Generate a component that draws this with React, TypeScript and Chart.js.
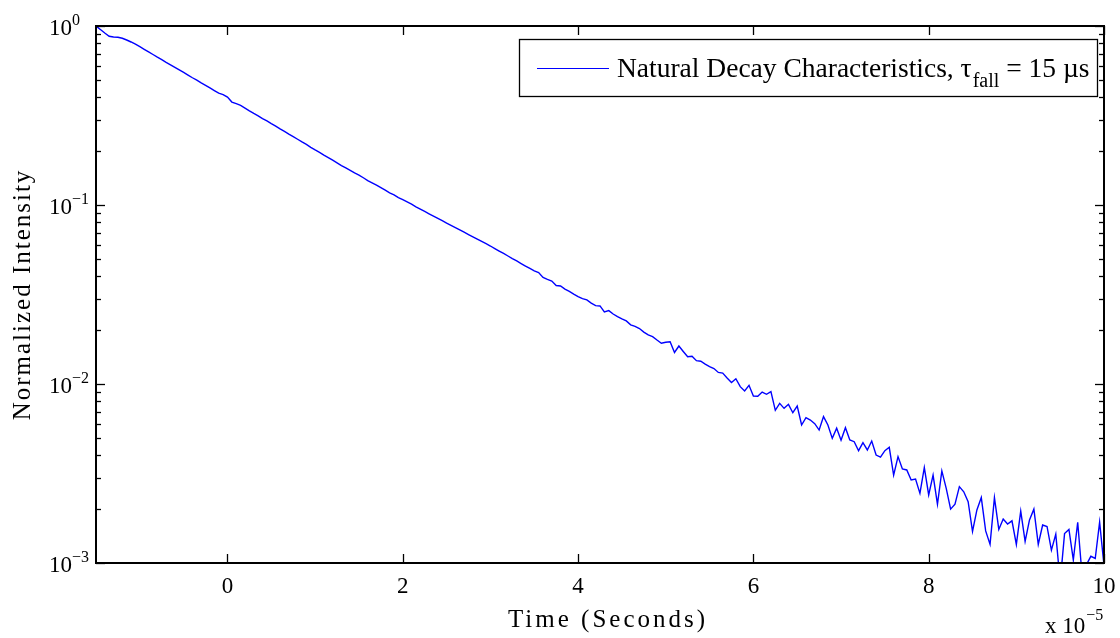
import { useEffect, useRef } from 'react';
import { Chart, registerables } from 'chart.js';

Chart.register(...registerables);

// Sample times in units of 1e-5 s
const times = [
  -1.5, -1.45, -1.4, -1.35, -1.3, -1.25, -1.2, -1.15, -1.1, -1.05,
  -1, -0.95, -0.9, -0.85, -0.8, -0.75, -0.7, -0.65, -0.6, -0.55,
  -0.5, -0.45, -0.4, -0.35, -0.3, -0.25, -0.2, -0.15, -0.1, -0.05,
  0, 0.05, 0.1, 0.15, 0.2, 0.25, 0.3, 0.35, 0.4, 0.45,
  0.5, 0.55, 0.6, 0.65, 0.7, 0.75, 0.8, 0.85, 0.9, 0.95,
  1, 1.05, 1.1, 1.15, 1.2, 1.25, 1.3, 1.35, 1.4, 1.45,
  1.5, 1.55, 1.6, 1.65, 1.7, 1.75, 1.8, 1.85, 1.9, 1.95,
  2, 2.05, 2.1, 2.15, 2.2, 2.25, 2.3, 2.35, 2.4, 2.45,
  2.5, 2.55, 2.6, 2.65, 2.7, 2.75, 2.8, 2.85, 2.9, 2.95,
  3, 3.05, 3.1, 3.15, 3.2, 3.25, 3.3, 3.35, 3.4, 3.45,
  3.5, 3.55, 3.6, 3.65, 3.7, 3.75, 3.8, 3.85, 3.9, 3.95,
  4, 4.05, 4.1, 4.15, 4.2, 4.25, 4.3, 4.35, 4.4, 4.45,
  4.5, 4.55, 4.6, 4.65, 4.7, 4.75, 4.8, 4.85, 4.9, 4.95,
  5, 5.05, 5.1, 5.15, 5.2, 5.25, 5.3, 5.35, 5.4, 5.45,
  5.5, 5.55, 5.6, 5.65, 5.7, 5.75, 5.8, 5.85, 5.9, 5.95,
  6, 6.05, 6.1, 6.15, 6.2, 6.25, 6.3, 6.35, 6.4, 6.45,
  6.5, 6.55, 6.6, 6.65, 6.7, 6.75, 6.8, 6.85, 6.9, 6.95,
  7, 7.05, 7.1, 7.15, 7.2, 7.25, 7.3, 7.35, 7.4, 7.45,
  7.5, 7.55, 7.6, 7.65, 7.7, 7.75, 7.8, 7.85, 7.9, 7.95,
  8, 8.05, 8.1, 8.15, 8.2, 8.25, 8.3, 8.35, 8.4, 8.45,
  8.5, 8.55, 8.6, 8.65, 8.7, 8.75, 8.8, 8.85, 8.9, 8.95,
  9, 9.05, 9.1, 9.15, 9.2, 9.25, 9.3, 9.35, 9.4, 9.45,
  9.5, 9.55, 9.6, 9.65, 9.7, 9.75, 9.8, 9.85, 9.9, 9.95,
  10,
];

// Normalized intensity
const intensity = [
  1.0, 0.956, 0.914, 0.876, 0.868, 0.865, 0.854, 0.835, 0.814, 0.791,
  0.766, 0.741, 0.716, 0.693, 0.670, 0.649, 0.627, 0.607, 0.587, 0.568,
  0.550, 0.532, 0.514, 0.498, 0.481, 0.466, 0.451, 0.436, 0.422, 0.414,
  0.401, 0.376, 0.368, 0.360, 0.348, 0.336, 0.325, 0.315, 0.304, 0.295,
  0.285, 0.276, 0.266, 0.258, 0.249, 0.241, 0.233, 0.225, 0.218, 0.210,
  0.203, 0.197, 0.190, 0.184, 0.178, 0.172, 0.166, 0.161, 0.156, 0.151,
  0.147, 0.142, 0.137, 0.133, 0.129, 0.125, 0.121, 0.117, 0.114, 0.110,
  0.107, 0.104, 0.101, 0.0976, 0.0947, 0.0920, 0.0893, 0.0867, 0.0842, 0.0817,
  0.0793, 0.0770, 0.0748, 0.0726, 0.0705, 0.0684, 0.0664, 0.0645, 0.0626, 0.0608,
  0.0590, 0.0571, 0.0553, 0.0536, 0.0519, 0.0502, 0.0487, 0.0471, 0.0456, 0.0442,
  0.0428, 0.0419, 0.0394, 0.0384, 0.0376, 0.0355, 0.0353, 0.0339, 0.0329, 0.0318,
  0.0308, 0.0300, 0.0295, 0.0283, 0.0274, 0.0273, 0.0253, 0.0257, 0.0246, 0.0238,
  0.0231, 0.0225, 0.0214, 0.0210, 0.0204, 0.0195, 0.0188, 0.0184, 0.0176, 0.0169,
  0.0171, 0.0172, 0.0150, 0.0163, 0.0152, 0.0142, 0.0143, 0.0135, 0.0134, 0.0129,
  0.0125, 0.0122, 0.0116, 0.0115, 0.0108, 0.0102, 0.0107, 0.00966, 0.00914, 0.00983,
  0.00857, 0.00855, 0.00902, 0.00876, 0.00906, 0.00713, 0.00780, 0.00731, 0.00770, 0.00691,
  0.00753, 0.00590, 0.00648, 0.00629, 0.00600, 0.00553, 0.00657, 0.00590, 0.00497, 0.00566,
  0.00485, 0.00570, 0.00487, 0.00476, 0.00424, 0.00470, 0.00428, 0.00480, 0.00401, 0.00390,
  0.00424, 0.00443, 0.00310, 0.00393, 0.00335, 0.00331, 0.00291, 0.00294, 0.00245, 0.00341,
  0.00240, 0.00310, 0.00213, 0.00327, 0.00261, 0.00200, 0.00213, 0.00267, 0.00250, 0.00220,
  0.00150, 0.00198, 0.00232, 0.00151, 0.00127, 0.00232, 0.00154, 0.00176, 0.00165, 0.00172,
  0.00127, 0.00195, 0.00132, 0.00174, 0.00200, 0.00127, 0.00163, 0.00160, 0.00118, 0.00145,
  0.00078, 0.00146, 0.00154, 0.00104, 0.00169, 0.00085, 0.00098, 0.00109, 0.00106, 0.00169,
  0.00097,
];

const xTickValues = [0, 2, 4, 6, 8, 10];
const xTickLabels = ['0', '2', '4', '6', '8', '10'];
const yDecadeValues = [1, 0.1, 0.01, 0.001];
const yDecadeExponents = ['0', '\u22121', '\u22122', '\u22123'];
const minorMultipliers = [2, 3, 4, 5, 6, 7, 8, 9];

const seriesLabel = 'Natural Decay Characteristics, \u03c4fall = 15 \u00b5s';
const legendMain = 'Natural Decay Characteristics, \u03c4';
const legendSub = 'fall';
const legendTail = ' = 15 \u00b5s';
const xTitle = 'Time (Seconds)';
const yTitle = 'Normalized Intensity';
const xMultBase = 'x 10';
const xMultExp = '\u22125';

const FONT = '"Liberation Serif", "Times New Roman", Times, serif';

const matlabPlugin = {
  id: 'matlabFrame',
  afterDatasetsDraw(chart: any) {
    const { ctx, chartArea: a, scales } = chart;
    const xs = scales.x;
    const ys = scales.y;
    ctx.save();

    // Frame
    ctx.strokeStyle = '#000';
    ctx.lineWidth = 2;
    ctx.strokeRect(a.left, a.top, a.right - a.left, a.bottom - a.top);

    // Ticks
    ctx.lineWidth = 1.3;
    const seg = (x1: number, y1: number, x2: number, y2: number) => {
      ctx.beginPath();
      ctx.moveTo(x1, y1);
      ctx.lineTo(x2, y2);
      ctx.stroke();
    };
    xTickValues.forEach((v) => {
      const px = Math.round(xs.getPixelForValue(v)) + 0.5;
      seg(px, a.bottom, px, a.bottom - 9);
      seg(px, a.top, px, a.top + 9);
    });
    yDecadeValues.forEach((v) => {
      const py = Math.round(ys.getPixelForValue(v)) + 0.5;
      seg(a.left, py, a.left + 9, py);
      seg(a.right, py, a.right - 9, py);
    });
    yDecadeValues.slice(1).forEach((d) => {
      minorMultipliers.forEach((m) => {
        const py = Math.round(ys.getPixelForValue(m * d)) + 0.5;
        seg(a.left, py, a.left + 5, py);
        seg(a.right, py, a.right - 5, py);
      });
    });

    // Tick labels
    ctx.fillStyle = '#000';
    ctx.textBaseline = 'alphabetic';
    ctx.font = `23px ${FONT}`;
    ctx.textAlign = 'center';
    xTickValues.forEach((v, i) => {
      ctx.fillText(xTickLabels[i], xs.getPixelForValue(v), a.bottom + 30);
    });
    yDecadeValues.forEach((v, i) => {
      const py = ys.getPixelForValue(v);
      ctx.font = `23px ${FONT}`;
      ctx.textAlign = 'right';
      ctx.fillText('10', 72, py + 9);
      ctx.font = `16px ${FONT}`;
      ctx.textAlign = 'left';
      ctx.fillText(yDecadeExponents[i], 72, py - 1);
    });

    // Multiplier
    ctx.font = `23px ${FONT}`;
    ctx.textAlign = 'left';
    ctx.fillText(xMultBase, 1045, 633);
    const mw = ctx.measureText(xMultBase).width;
    ctx.font = `16px ${FONT}`;
    ctx.fillText(xMultExp, 1045 + mw + 1, 620);

    // Axis titles
    ctx.font = `25px ${FONT}`;
    ctx.textAlign = 'center';
    (ctx as any).letterSpacing = '3px';
    ctx.fillText(xTitle, (a.left + a.right) / 2 + 8, 627);
    ctx.save();
    ctx.translate(30, (a.top + a.bottom) / 2);
    ctx.rotate(-Math.PI / 2);
    (ctx as any).letterSpacing = '2px';
    ctx.fillText(yTitle, 0, 0);
    ctx.restore();
    (ctx as any).letterSpacing = '0px';

    // Legend
    const bx = 519, by = 39, bw = 578, bh = 57;
    ctx.fillStyle = '#fff';
    ctx.fillRect(bx, by, bw, bh);
    ctx.strokeStyle = '#000';
    ctx.lineWidth = 1.3;
    ctx.strokeRect(bx + 0.5, by + 0.5, bw, bh);
    ctx.strokeStyle = '#0000ff';
    ctx.lineWidth = 1.2;
    seg(537, 68.5, 609, 68.5);
    ctx.fillStyle = '#000';
    ctx.textAlign = 'left';
    ctx.font = `27.5px ${FONT}`;
    let tx = 617;
    ctx.fillText(legendMain, tx, 77);
    tx += ctx.measureText(legendMain).width + 1;
    ctx.font = `20px ${FONT}`;
    ctx.fillText(legendSub, tx, 87);
    tx += ctx.measureText(legendSub).width;
    ctx.font = `27.5px ${FONT}`;
    ctx.fillText(legendTail, tx, 77);

    ctx.restore();
  },
};

export default function App() {
  const ref = useRef<HTMLCanvasElement>(null);

  useEffect(() => {
    document.body.style.margin = '0';
    const points = times.map((t, i) => ({ x: t, y: intensity[i] }));
    const chart = new Chart(ref.current as HTMLCanvasElement, {
      type: 'line',
      data: {
        datasets: [
          {
            label: seriesLabel,
            data: points,
            borderColor: '#0000ff',
            borderWidth: 1.4,
            pointRadius: 0,
            fill: false,
            tension: 0,
          },
        ],
      },
      options: {
        responsive: false,
        animation: false,
        layout: { padding: { left: 0, right: 16, top: 26, bottom: 0 } },
        plugins: {
          legend: { display: false },
          tooltip: { enabled: false },
        },
        scales: {
          x: {
            type: 'linear',
            min: -1.5,
            max: 10,
            grid: { display: false },
            border: { display: false },
            ticks: { display: false },
            afterFit: (s: any) => {
              s.height = 75;
            },
          },
          y: {
            type: 'logarithmic',
            min: 0.001,
            max: 1,
            grid: { display: false },
            border: { display: false },
            ticks: { display: false },
            afterFit: (s: any) => {
              s.width = 96;
            },
          },
        },
      },
      plugins: [matlabPlugin],
    } as any);
    return () => chart.destroy();
  }, []);

  return (
    <div style={{ width: 1120, height: 638, background: '#fff' }}>
      <canvas ref={ref} width={1120} height={638} style={{ display: 'block' }} />
    </div>
  );
}
